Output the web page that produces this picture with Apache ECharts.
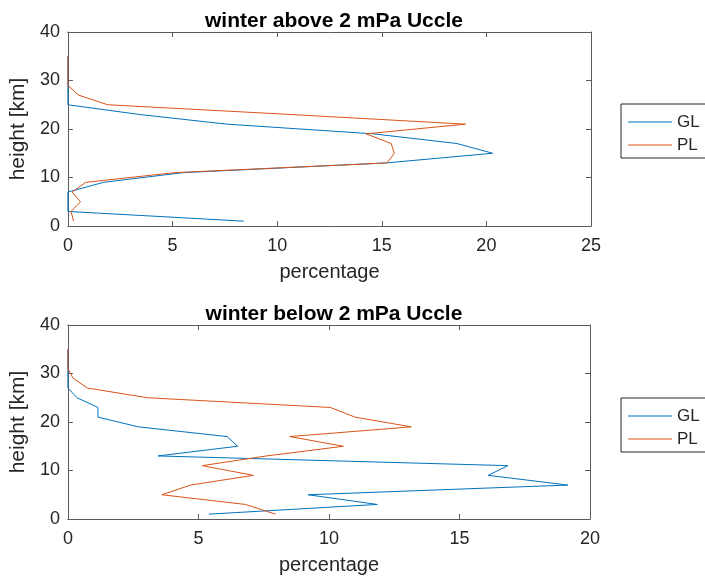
<!DOCTYPE html>
<html>
<head>
<meta charset="utf-8">
<script src="https://cdn.jsdelivr.net/npm/echarts@6/dist/echarts.min.js"></script>
<style>
  html, body { margin: 0; padding: 0; background: #fff; }
  #chart { width: 705px; height: 583px; }
</style>
</head>
<body>
<div id="chart"></div>
<script>
// Heights of the profile levels [km]
const heights = [1, 3, 5, 7, 9, 11, 13, 15, 17, 19, 21, 23, 25, 27, 29, 31, 33, 35];

// Winter, above 2 mPa: percentage per level
const aboveGL = [8.4, 0, 0, 0, 1.7, 5.5, 15.2, 20.3, 18.6, 14.6, 7.6, 3.4, 0, 0, 0, 0, 0, 0];
const abovePL = [0.27, 0.15, 0.6, 0.2, 0.85, 5.1, 15.25, 15.6, 15.45, 14.25, 19.0, 10.6, 1.9, 0.5, 0, 0, 0, 0];

// Winter, below 2 mPa: percentage per level
const belowGL = [5.4, 11.85, 9.2, 19.15, 16.1, 16.85, 3.45, 6.5, 6.1, 2.7, 1.15, 1.15, 0.35, 0, 0, 0, 0, 0];
const belowPL = [7.95, 6.8, 3.6, 4.7, 7.1, 5.15, 7.6, 10.55, 8.5, 13.15, 11.0, 10.05, 3.05, 0.75, 0.2, 0, 0, 0];

const titles = ['winter above 2 mPa Uccle', 'winter below 2 mPa Uccle'];
const seriesNames = ['GL', 'PL'];
const xMax = [25, 20];

const FONT = 'Liberation Sans, Arial, Helvetica, sans-serif';
const TEXT = '#262626';
const AXIS = '#5a5a5a';
const BLUE = '#0072BD';
const ORANGE = '#D95319';

const pairs = (xs) => xs.map((v, i) => [v, heights[i]]);

const grids = [
  { left: 66, top: 32, width: 525, height: 194 },
  { left: 66, top: 325, width: 524, height: 194 }
];

function xAxisFor(g, pos, withLabels) {
  return {
    type: 'value', gridIndex: g, position: pos,
    min: 0, max: xMax[g], interval: 5,
    name: withLabels ? 'percentage' : '',
    nameLocation: 'middle', nameGap: 36,
    nameTextStyle: { color: TEXT, fontSize: 20, fontFamily: FONT },
    axisLine: { show: true, onZero: false, lineStyle: { color: AXIS, width: 1 } },
    axisTick: { show: true, inside: true, length: 5, lineStyle: { color: AXIS } },
    axisLabel: { show: withLabels, color: TEXT, fontSize: 18, fontFamily: FONT, margin: 11 },
    splitLine: { show: false }
  };
}
function yAxisFor(g, pos, withLabels) {
  return {
    type: 'value', gridIndex: g, position: pos,
    min: 0, max: 40, interval: 10,
    name: withLabels ? 'height [km]' : '',
    nameLocation: 'middle', nameGap: 34,
    nameTextStyle: { color: TEXT, fontSize: 21, fontFamily: FONT },
    axisLine: { show: true, onZero: false, lineStyle: { color: AXIS, width: 1 } },
    axisTick: { show: true, inside: true, length: 5, lineStyle: { color: AXIS } },
    axisLabel: { show: withLabels, color: TEXT, fontSize: 18, fontFamily: FONT, margin: 8 },
    splitLine: { show: false }
  };
}

function lineSeries(name, data, axisIdx, color) {
  return {
    name: name, type: 'line', data: pairs(data),
    xAxisIndex: axisIdx, yAxisIndex: axisIdx,
    symbol: 'none', showSymbol: false, clip: true,
    lineStyle: { color: color, width: 1 },
    itemStyle: { color: color }
  };
}

function legendAt(top) {
  return {
    orient: 'vertical', left: 621, top: top,
    data: seriesNames,
    icon: 'rect',
    borderColor: TEXT, borderWidth: 1, borderRadius: 0,
    padding: [8, 14, 3, 7],
    itemWidth: 44, itemHeight: 1, itemGap: 3,
    textStyle: { color: TEXT, fontSize: 17, lineHeight: 20, fontFamily: FONT },
    selectedMode: false
  };
}

const option = {
  animation: false,
  backgroundColor: '#ffffff',
  title: titles.map((t, g) => ({
    text: t, left: 329, top: g === 0 ? 6 : 299, textAlign: 'center',
    textStyle: { color: '#000', fontSize: 21, fontWeight: 'bold', fontFamily: FONT }
  })),
  grid: grids,
  xAxis: [xAxisFor(0, 'bottom', true), xAxisFor(0, 'top', false),
          xAxisFor(1, 'bottom', true), xAxisFor(1, 'top', false)],
  yAxis: [yAxisFor(0, 'left', true), yAxisFor(0, 'right', false),
          yAxisFor(1, 'left', true), yAxisFor(1, 'right', false)],
  legend: [legendAt(104), legendAt(398)],
  series: [
    lineSeries('GL', aboveGL, 0, BLUE),
    lineSeries('PL', abovePL, 0, ORANGE),
    lineSeries('GL', belowGL, 2, BLUE),
    lineSeries('PL', belowPL, 2, ORANGE)
  ]
};

const chart = echarts.init(document.getElementById('chart'), null, { renderer: 'canvas' });
chart.setOption(option);
</script>
</body>
</html>
